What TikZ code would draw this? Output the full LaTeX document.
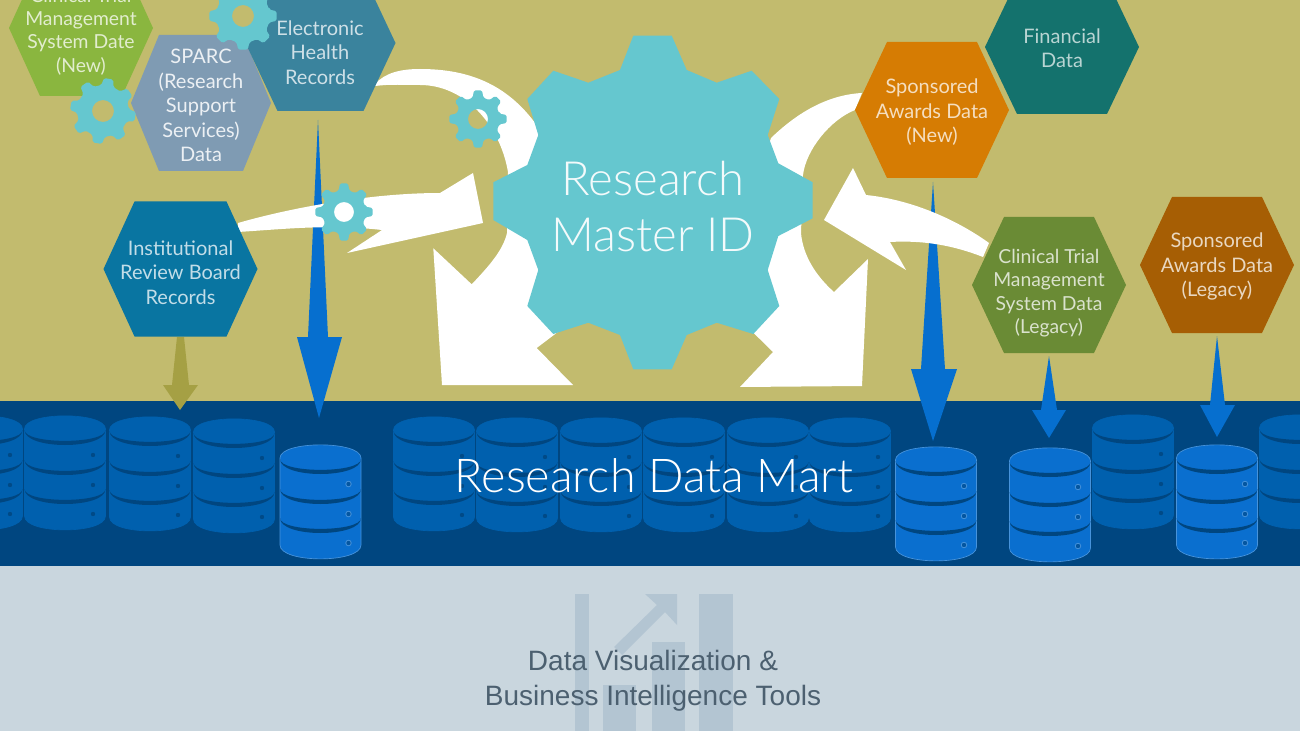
\documentclass[tikz,border=0pt]{standalone}
\usepackage{fontspec}
\setmainfont{Lato}
\newfontfamily\lightf{Lato Light}
\newfontfamily\arialf{Liberation Sans}
\definecolor{olivebg}{HTML}{C2BB6E}
\definecolor{bandblue}{HTML}{004680}
\definecolor{dimblue}{HTML}{0060AE}
\definecolor{brightblue}{HTML}{0A6FCF}
\definecolor{arrowblue}{HTML}{066FCF}
\definecolor{arrowolive}{HTML}{A5A044}
\definecolor{geartint}{HTML}{65C7CF}
\definecolor{paleband}{HTML}{C9D6DE}
\definecolor{ghost}{HTML}{B3C5D2}
\definecolor{toolstext}{HTML}{4C6070}
\definecolor{cnew}{HTML}{8AB63F}
\definecolor{sparc}{HTML}{7F9BB3}
\definecolor{ehr}{HTML}{3A839D}
\definecolor{irb}{HTML}{0975A1}
\definecolor{fin}{HTML}{14726D}
\definecolor{snew}{HTML}{D67C03}
\definecolor{cleg}{HTML}{6A8B35}
\definecolor{sleg}{HTML}{A65E04}
\newcommand{\hexshape}[6]{% cx cy halfwidth tophalfwidth halfheight colour
  \fill[#6] ({#1-#3},#2) -- ({#1-#4},{#2-#5}) -- ({#1+#4},{#2-#5}) -- ({#1+#3},#2)
    -- ({#1+#4},{#2+#5}) -- ({#1-#4},{#2+#5}) -- cycle;}
\newcommand{\minigear}[5]{% cx cy R hole rot
  \fill[geartint,even odd rule,rounded corners=1.2pt]
    ({#1+(#3-7)*cos(#5-14)},{#2+(#3-7)*sin(#5-14)})
    \foreach \k in {0,...,7}{
      -- ({#1+(#3-7)*cos(45*\k+#5-14)},{#2+(#3-7)*sin(45*\k+#5-14)})
      -- ({#1+#3*cos(45*\k+#5-8)},{#2+#3*sin(45*\k+#5-8)})
      -- ({#1+#3*cos(45*\k+#5+8)},{#2+#3*sin(45*\k+#5+8)})
      -- ({#1+(#3-7)*cos(45*\k+#5+14)},{#2+(#3-7)*sin(45*\k+#5+14)})
      } -- cycle
    (#1,#2) circle (#4);}
\newcommand{\crescent}[1]{%
  \fill[bandblue] (-40.5,#1) .. controls (-40.5,{#1+14.5}) and (40.5,{#1+14.5}) .. (40.5,#1)
     .. controls (40.5,{#1+20}) and (-40.5,{#1+20}) .. (-40.5,#1) -- cycle;}
\newcommand{\dbicon}[5]{% cx top bodycolour edgecolour dotcolour
  \begin{scope}[shift={(#1,#2)}]
    \filldraw[fill=#3,draw=#4,line width=.5pt] (-40.5,13) -- (-40.5,100)
       .. controls (-40.5,118.5) and (40.5,118.5) .. (40.5,100) -- (40.5,13)
       .. controls (40.5,-4.5) and (-40.5,-4.5) .. (-40.5,13) -- cycle;
    \crescent{14}\crescent{44}\crescent{73}
    \foreach \yy in {39,69,98}{
      \fill[#4] (28,\yy) circle (3.2);
      \fill[#5] (28,\yy) circle (2.2);}
  \end{scope}}
\tikzset{
  hextext/.style={align=center,inner sep=0pt,font=\fontsize{15}{18.4}\selectfont},
  bigtext/.style={align=center,inner sep=0pt,text=#1,font=\lightf\fontsize{35.4}{42}\selectfont},
  toolstyle/.style={align=center,inner sep=0pt,text=toolstext,font=\arialf\fontsize{21}{26.2}\selectfont},
  whiteshape/.style={fill=white},
  blueshape/.style={fill=arrowblue}
}
\begin{document}
\begin{tikzpicture}[x=0.75pt,y=-0.75pt]
\useasboundingbox (0,0) rectangle (1300,731);
\fill[olivebg] (0,0) rectangle (1300,401);
\fill[bandblue] (0,401) rectangle (1300,566);
\fill[paleband] (0,566) rectangle (1300,731);
% ghost chart icon
\fill[ghost] (575,594) rectangle (589,731);
\fill[ghost] (699,594) rectangle (733,731);
\fill[ghost] (652,642) rectangle (685,731);
\fill[ghost] (603,685) rectangle (636,731);
\fill[ghost] (645,594) -- (677,594) -- (677,625) -- (665,612) -- (622,655) -- (614,647) -- (657,605) -- cycle;
% dim databases
\foreach \cx/\ty in {-18/416,65/416,150/417,234/419,434/417,517/418,601/418,684/418,768/418,850/418,1133/415,1300/415}{
  \dbicon{\cx}{\ty}{dimblue}{dimblue}{bandblue!85!dimblue}}
% bright databases
\foreach \cx/\ty in {320.5/445,936/447,1050/448,1217/445}{
  \dbicon{\cx}{\ty}{brightblue}{brightblue!75!white}{bandblue!60!brightblue}}
% arrows into the band
\fill[arrowolive] (177,337) -- (184,337) -- (189,385) -- (198,385) -- (180,410) -- (163,385) -- (172,385) -- cycle;
\fill[blueshape] (318,120) -- (328,337) -- (342,337) -- (319,418) -- (297,337) -- (308,337) -- cycle;
\fill[blueshape] (933,182) -- (945,369) -- (957,369) -- (933,441) -- (911,369) -- (921,369) -- cycle;
\fill[blueshape] (1049,356) -- (1057,410) -- (1066,410) -- (1049,438) -- (1032,410) -- (1041,410) -- cycle;
\fill[blueshape] (1217,336) -- (1225,405) -- (1235,405) -- (1217,437) -- (1200,405) -- (1210,405) -- cycle;
% white curved arrows
\fill[whiteshape] (375,84) .. controls (385,73) and (400,69) .. (420,69)
   .. controls (470,69) and (510,85) .. (540,130) -- (600,300) -- (536.7,348) -- (573,385)
   -- (442,385) -- (433.3,248.3) -- (471.7,284.3) .. controls (490,265) and (503,250) .. (507,233)
   -- (508,172) .. controls (500,125) and (465,85) .. (420,85) .. controls (405,85) and (390,84) .. (375,86) -- cycle;
\fill[whiteshape] (862,93) .. controls (825,95) and (795,115) .. (771,138) -- (720,300) -- (773,352) -- (740,387)
   -- (862,386) -- (868,259) -- (834,292) .. controls (815,275) and (803,255) .. (801,233)
   -- (803,175) .. controls (806,150) and (830,120) .. (855,110) -- cycle;
\fill[whiteshape] (238,223) .. controls (290,208) and (370,193) .. (440,193) -- (473,173) -- (483,223)
   -- (347,253) -- (382,230) .. controls (330,224) and (285,229) .. (238,232) -- cycle;
\fill[whiteshape] (989,243) .. controls (960,222) and (915,200) .. (866,195) -- (853,168) -- (824,220)
   -- (906,270) -- (890,242) .. controls (925,240) and (955,246) .. (983,257) -- cycle;
% hexagons
\hexshape{81}{28}{72}{41}{68}{cnew}
\hexshape{201}{103}{70}{42}{68}{sparc}
\hexshape{320.5}{43}{75}{43}{68}{ehr}
\hexshape{180.5}{269}{77}{46}{67.5}{irb}
\hexshape{1062}{47}{77}{45}{67}{fin}
\hexshape{932}{110}{77}{45}{68}{snew}
\hexshape{1049}{285}{77}{45}{68}{cleg}
\hexshape{1217}{265}{77}{45}{68}{sleg}
% gears
\minigear{103}{111}{33}{11}{10}
\minigear{243}{16}{34}{11}{0}
\minigear{478}{119}{29}{10}{0}
\minigear{344}{212}{29}{10}{0}
\fill[geartint] (633.3,35.7) -- (671.7,35.7) -- (686.7,70) -- (716.7,82.7) -- (751.7,70.7) -- (779.3,99)
  -- (767.7,135) -- (778.3,163.3) -- (812.7,182.3) -- (812.7,218.3) -- (778.3,236) -- (767.7,270)
  -- (779.3,306) -- (753.3,334) -- (716.7,322.7) -- (686.7,335) -- (671.7,369.3) -- (633.3,369.3)
  -- (620,335) -- (588.3,322.7) -- (553.3,334) -- (527.3,306) -- (538.3,270) -- (527.3,240)
  -- (493.3,220) -- (493.3,182.3) -- (527.3,165) -- (538.3,135) -- (527.3,99) -- (553.3,70.7)
  -- (588.3,82.7) -- (620,70) -- cycle;
% labels
\node[hextext,text=white!75!cnew,font=\fontsize{14.5}{17.4}\selectfont] (clinicalnew) at (81,31.5) {Clinical Trial\\Management\\System Date\\(New)};
\node[hextext,text=white!85!sparc] (sparcdata) at (201,105.5) {SPARC\\(Research\\Support\\Services)\\Data};
\node[hextext,text=white!75!ehr] (ehrdata) at (320,52.5) {Electronic\\Health\\Records};
\node[hextext,text=white!75!irb] (irbdata) at (180.5,272.5) {Institutional\\Review Board\\Records};
\node[hextext,text=white!70!fin] (findata) at (1062,48) {Financial\\Data};
\node[hextext,text=white!75!snew] (snewdata) at (932,112.5) {Sponsored\\Awards Data\\(New)};
\node[hextext,text=white!75!cleg,font=\fontsize{14.5}{17.6}\selectfont] (clegdata) at (1049,293) {Clinical Trial\\Management\\System Data\\(Legacy)};
\node[hextext,text=white!75!sleg] (slegdata) at (1217,266.5) {Sponsored\\Awards Data\\(Legacy)};
\node[bigtext=white!92!geartint] (masterid) at (653,207) {Research\\Master ID};
\node[bigtext=white,font=\lightf\fontsize{35}{42}\selectfont] (mart) at (654,476) {Research Data Mart};
\node[toolstyle] (tools) at (653,681) {Data Visualization \&\\Business Intelligence Tools};
\end{tikzpicture}
\end{document}
